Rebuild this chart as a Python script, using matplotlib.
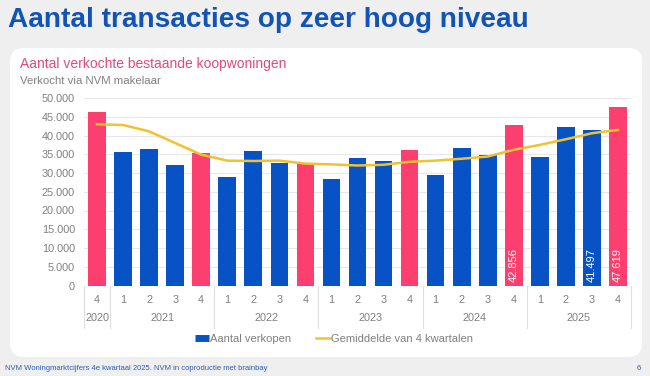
import matplotlib.pyplot as plt
from matplotlib.lines import Line2D
from matplotlib.patches import FancyBboxPatch

plt.rcParams['font.family'] = ['Liberation Sans', 'DejaVu Sans']

quarters = ['4', '1', '2', '3', '4', '1', '2', '3', '4', '1', '2', '3', '4',
            '1', '2', '3', '4', '1', '2', '3', '4']
years = ['2020', '2021', '2022', '2023', '2024', '2025']
year_sizes = [1, 4, 4, 4, 4, 4]
verkopen = [46400, 35600, 36400, 32200, 35300, 28900, 35900, 32800, 32400, 28300, 34000,
            33200, 36100, 29500, 36600, 34800, 42856, 34400, 42400, 41497, 47619]
gemiddelde = [43000, 42800, 41100, 38000, 34900, 33300, 33200, 33300, 32500, 32300, 32000,
              32200, 33000, 33300, 33800, 34400, 36200, 37500, 39000, 40600, 41500]
labelled = [16, 19, 20]

BLUE = '#0753c6'
PINK = '#fc3f6e'
YELLOW = '#f2c12e'
GREY = '#7f7f7f'

W, H = 650, 376
fig = plt.figure(figsize=(W / 100, H / 100), dpi=100, facecolor='#efefef')

# white card (pixel coordinates)
card = FancyBboxPatch((10, H - 357), 632, 309, boxstyle='round,pad=0,rounding_size=14',
                      facecolor='white', edgecolor='none', transform=None, zorder=0)
fig.add_artist(card)

fig.text(8 / W, 1 - 20 / H, 'Aantal transacties op zeer hoog niveau', fontsize=20.2,
         fontweight='bold', color='#1254b6', va='center', ha='left')
fig.text(20 / W, 1 - 64 / H, 'Aantal verkochte bestaande koopwoningen', fontsize=10,
         color='#e04a80', va='center', ha='left')
fig.text(20 / W, 1 - 81 / H, 'Verkocht via NVM makelaar', fontsize=8.2,
         color=GREY, va='center', ha='left')
fig.text(5 / W, 1 - 368 / H, 'NVM Woningmarktcijfers 4e kwartaal 2025. NVM in coproductie met brainbay',
         fontsize=5.5, color='#2a5cb0', va='center', ha='left')
fig.text(641 / W, 1 - 368 / H, '6', fontsize=5.5, color='#2a5cb0', va='center', ha='right')

ax_l, ax_r, ax_t, ax_b = 84, 631, 98, 285.5
ax = fig.add_axes([ax_l / W, 1 - ax_b / H, (ax_r - ax_l) / W, (ax_b - ax_t) / H])
ax.set_facecolor('none')

x = list(range(len(verkopen)))
colors = [PINK if q == '4' else BLUE for q in quarters]
ax.bar(x, verkopen, width=0.68, color=colors, zorder=2)
ax.plot(x, gemiddelde, color=YELLOW, lw=1.8, zorder=3, solid_joinstyle='round')

for i in labelled:
    ax.text(i, 800, f'{verkopen[i]:,}'.replace(',', '.'), rotation=90, color='white',
            fontsize=8, ha='center', va='bottom', zorder=4)

ax.set_xlim(-0.5, len(verkopen) - 0.5)
ax.set_ylim(0, 50000)
yt = list(range(0, 50001, 5000))
ax.set_yticks(yt)
ax.set_yticklabels([f'{v:,}'.replace(',', '.') for v in yt])
ax.grid(axis='y', color='#e8e8e8', lw=0.8, zorder=0)
ax.set_axisbelow(True)
for s in ax.spines.values():
    s.set_visible(False)
ax.axhline(0, color='#d9d9d9', lw=0.8, zorder=1)
ax.tick_params(axis='y', length=0, pad=6.5, labelsize=7.8, labelcolor=GREY)
ax.set_xticks(x)
ax.set_xticklabels(quarters)
ax.tick_params(axis='x', length=0, pad=7, labelsize=7.8, labelcolor=GREY)

# year labels and group separators
sep_bottom = -(328 - ax_b) / (ax_b - ax_t)
year_y = -(318 - ax_b) / (ax_b - ax_t)
trans = ax.get_xaxis_transform()
start = -0.5
ax.plot([start, start], [0, sep_bottom], color='#dedede', lw=0.8, transform=trans, clip_on=False)
for yr, n in zip(years, year_sizes):
    end = start + n
    ax.plot([end, end], [0, sep_bottom], color='#dedede', lw=0.8, transform=trans, clip_on=False)
    ax.text((start + end) / 2, year_y, yr, transform=trans, ha='center', va='center',
            fontsize=7.8, color=GREY)
    start = end

handles = [Line2D([], [], color=BLUE, lw=5, solid_capstyle='butt'),
           Line2D([], [], color=YELLOW, lw=1.8)]
fig.legend(handles, ['Aantal verkopen', 'Gemiddelde van 4 kwartalen'], loc='center',
           bbox_to_anchor=(334 / W, 1 - 339 / H), ncol=2, frameon=False, fontsize=8,
           labelcolor=GREY, handlelength=1.3, handletextpad=0.1, columnspacing=2.2)

fig.savefig('out.png', dpi=100, facecolor=fig.get_facecolor())
